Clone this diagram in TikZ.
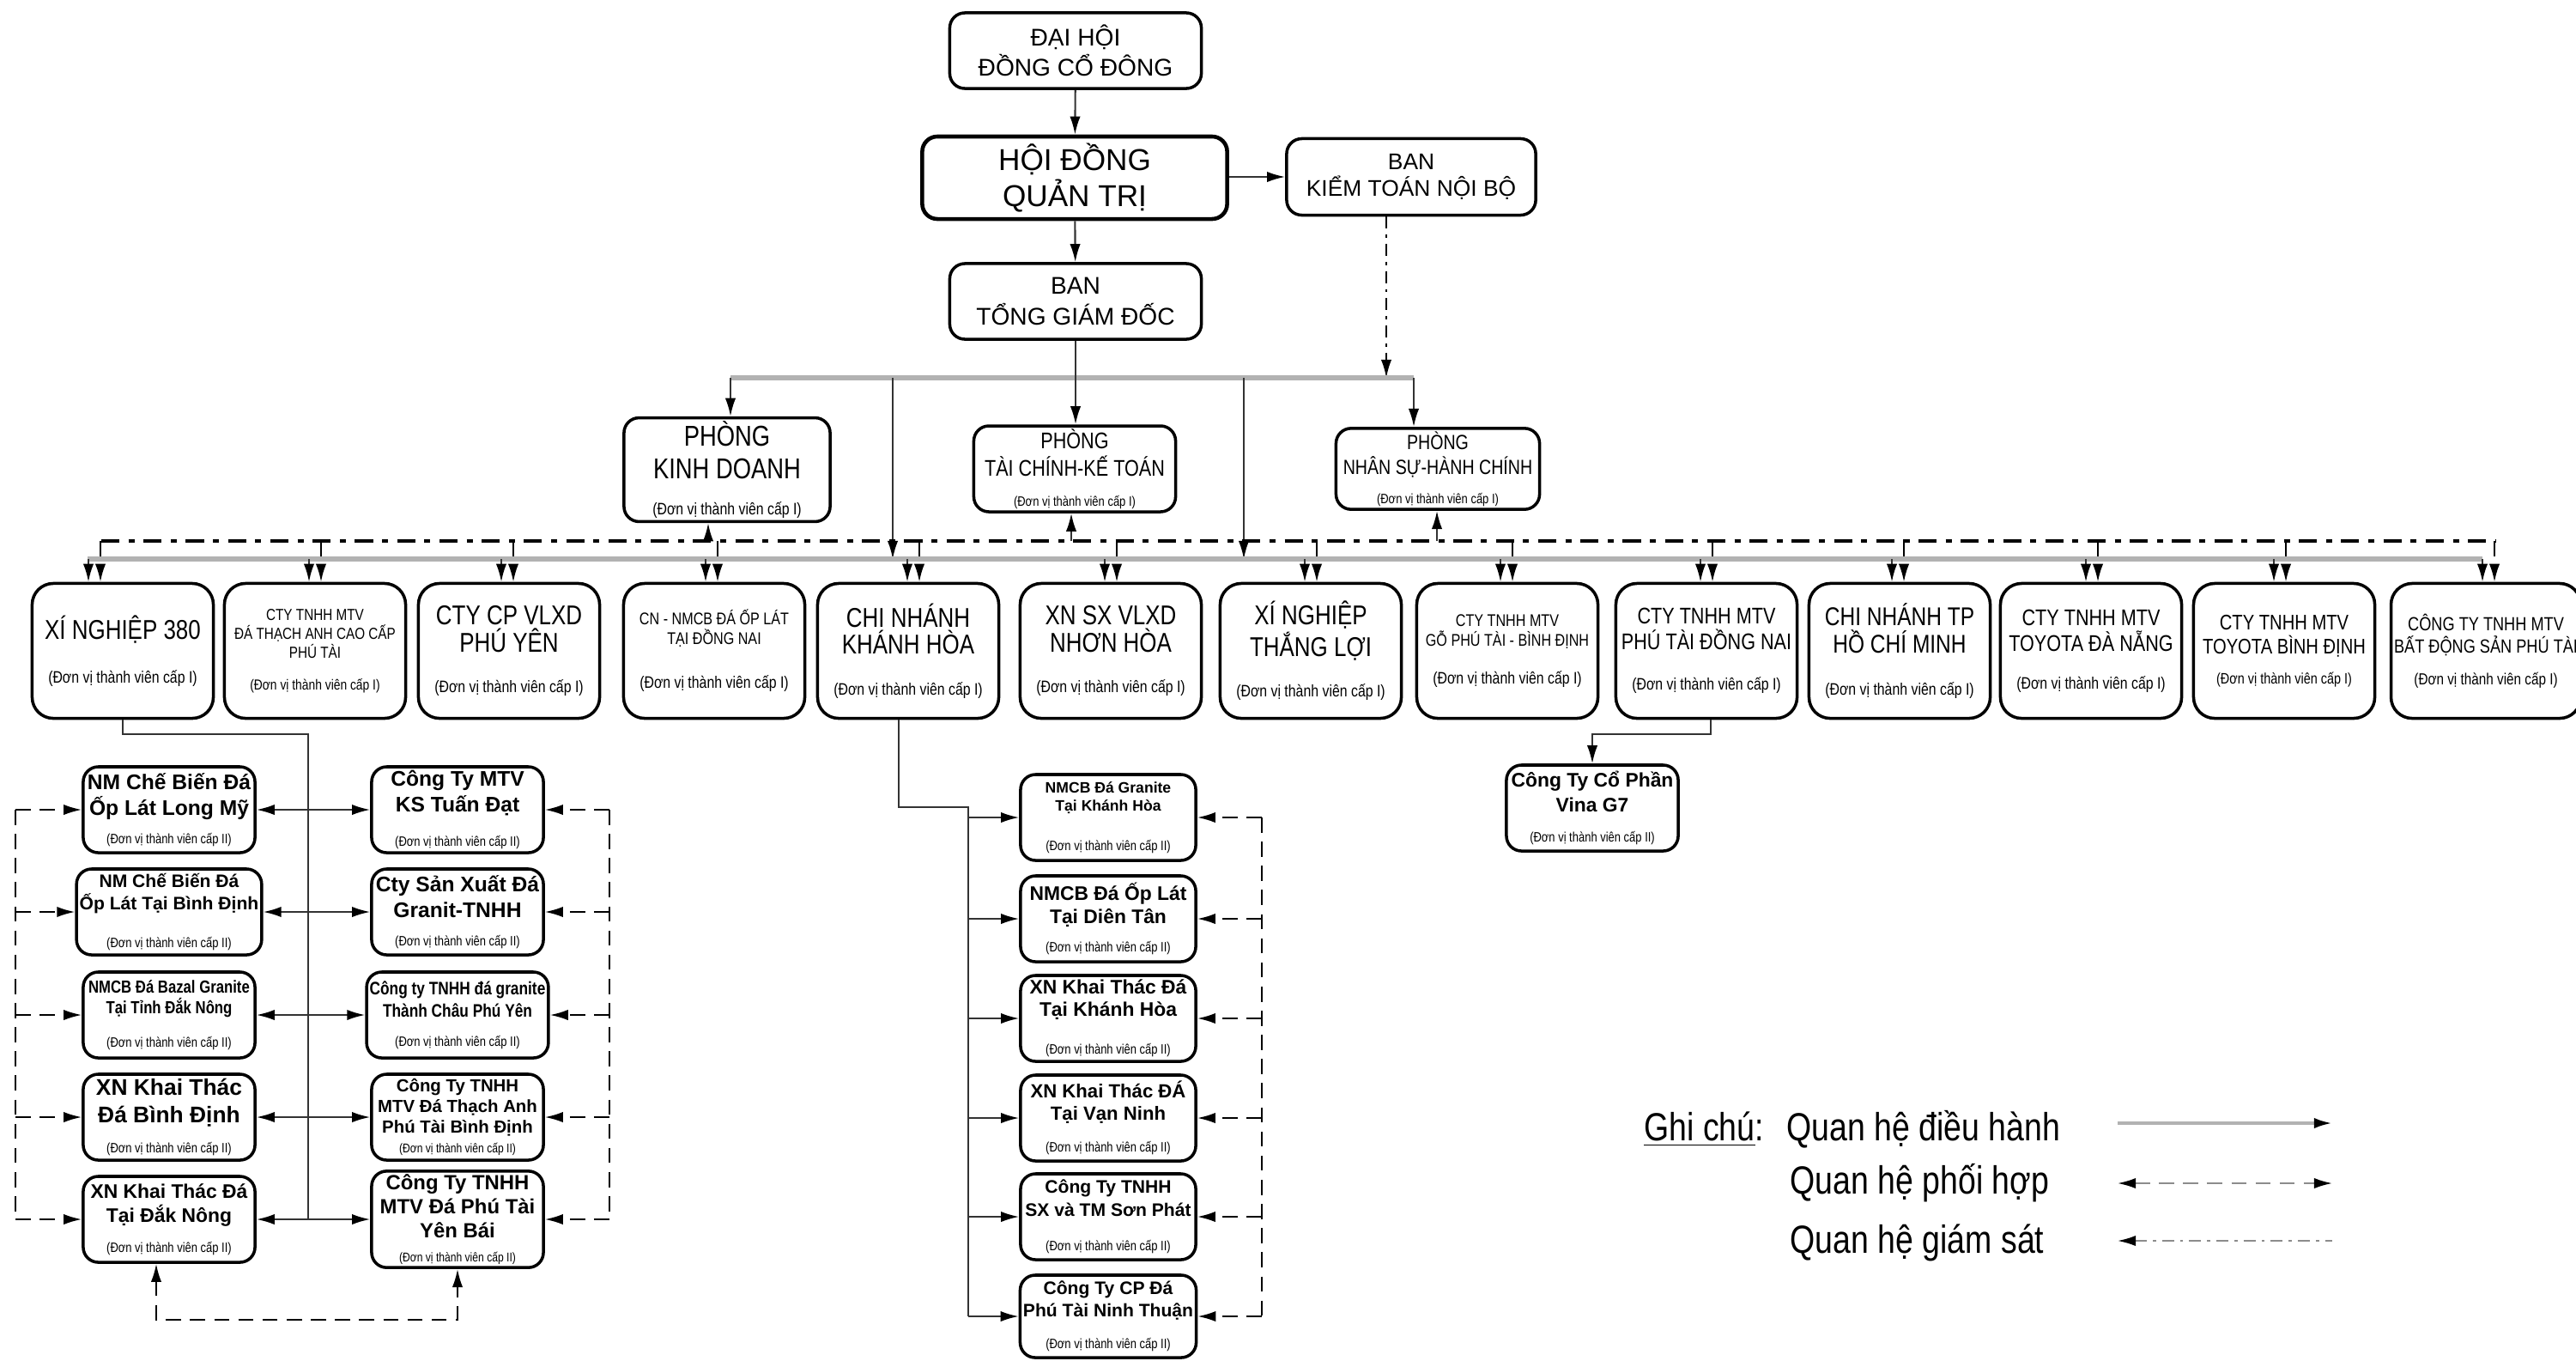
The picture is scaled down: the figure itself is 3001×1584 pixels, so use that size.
\documentclass[tikz,border=0pt]{standalone}
\usepackage{fontspec}
\setmainfont{Liberation Sans}
\newfontfamily\nar{Liberation Sans}[FakeStretch=0.82]
\usetikzlibrary{positioning, calc, arrows.meta}

\newcommand{\uf}[2]{\nar\fontsize{#1}{#2}\selectfont}
\newcommand{\rf}[2]{\fontsize{#1}{#2}\selectfont}
\newcommand{\capi}[1]{{\nar\mdseries\fontsize{#1}{#1}\selectfont (Đơn vị thành viên cấp I)}}
\newcommand{\capii}[1]{{\nar\mdseries\fontsize{#1}{#1}\selectfont (Đơn vị thành viên cấp II)}}

\tikzset{>={Latex[length=6pt,width=3.5pt,color=black]}}
\tikzset{box/.style={draw, line width=1pt, rounded corners=5pt, align=center, inner sep=1pt, fill=white}}
\tikzset{topbox/.style={box, minimum width=2.93cm, minimum height=0.88cm}}
\tikzset{unit/.style={box, minimum width=2.11cm, minimum height=1.57cm, rounded corners=7pt}}
\tikzset{sub/.style={box, minimum width=2cm, minimum height=1cm}}
\tikzset{ctl/.style={line width=0.6pt, black!80}}
\tikzset{bus/.style={line width=1.5pt, black!30}}
\tikzset{coop/.style={line width=0.6pt, dash pattern=on 5pt off 3pt}}
\tikzset{coopbus/.style={line width=1pt, dash pattern=on 6pt off 3pt on 2pt off 3pt}}
\tikzset{supv/.style={line width=0.6pt, dash pattern=on 4pt off 2pt on 1pt off 2pt}}

\begin{document}
\begin{tikzpicture}[x=0.01cm, y=-0.01cm]
  \useasboundingbox (0,0) rectangle (3001,1584);

  % TOP LEVEL

  \node[topbox, font=\rf{8}{10}] (dhcd) at (1253,59) {ĐẠI HỘI\\ĐỒNG CỔ ĐÔNG};
  \node[box, line width=1.3pt, minimum width=3.55cm, minimum height=0.96cm, font=\rf{10}{12}] (hdqt) at (1252,207) {HỘI ĐỒNG\\QUẢN TRỊ};
  \node[box, minimum width=2.9cm, minimum height=0.89cm, font=\rf{7.5}{9}] (bktnb) at (1644,206) {BAN\\KIỂM TOÁN NỘI BỘ};
  \node[topbox, font=\rf{8}{10}] (btgd) at (1253,351) {BAN\\TỔNG GIÁM ĐỐC};

  \node[box, minimum width=2.4cm, minimum height=0.92cm, font=\uf{9.5}{11}] (pkd) at (847,547) {PHÒNG\\KINH DOANH\\[1pt]\capi{5.5}};
  \node[box, minimum width=2.35cm, minimum height=0.9cm, font=\uf{7.5}{9}] (ptc) at (1252,546) {PHÒNG\\TÀI CHÍNH-KẾ TOÁN\\[1pt]\capi{4.5}};
  \node[box, minimum width=2.37cm, minimum height=0.9cm, font=\uf{6.8}{8.5}] (pns) at (1675,546) {PHÒNG\\NHÂN SỰ-HÀNH CHÍNH\\[1pt]\capi{4.5}};

  % MEMBER UNITS (LEVEL I)

  \node[unit, font=\uf{9}{9.5}] (u1) at (143,758) {XÍ NGHIỆP 380\\[5pt]\capi{5.5}};
  \node[unit, font=\uf{5.3}{6.3}] (u2) at (367,758) {CTY TNHH MTV\\ĐÁ THẠCH ANH CAO CẤP\\PHÚ TÀI\\[4pt]\capi{4.8}};
  \node[unit, font=\uf{9}{9}] (u3) at (593,758) {CTY CP VLXD\\PHÚ YÊN\\[4.5pt]\capi{5.5}};
  \node[unit, font=\uf{5.6}{6.5}] (u4) at (832,758) {CN - NMCB ĐÁ ỐP LÁT\\TẠI ĐỒNG NAI\\[8pt]\capi{5.5}};
  \node[unit, font=\uf{9}{9}] (u5) at (1058,758) {CHI NHÁNH\\KHÁNH HÒA\\[4.5pt]\capi{5.5}};
  \node[unit, font=\uf{9}{9}] (u6) at (1294,758) {XN SX VLXD\\NHƠN HÒA\\[4.5pt]\capi{5.5}};
  \node[unit, font=\uf{9}{9}] (u7) at (1527,758) {XÍ NGHIỆP\\THẮNG LỢI\\[4.5pt]\capi{5.5}};
  \node[unit, font=\uf{5.6}{6.5}] (u8) at (1756,758) {CTY TNHH MTV\\GỖ PHÚ TÀI - BÌNH ĐỊNH\\[6pt]\capi{5.5}};
  \node[unit, font=\uf{7.5}{8.5}] (u9) at (1988,758) {CTY TNHH MTV\\PHÚ TÀI ĐỒNG NAI\\[5pt]\capi{5.5}};
  \node[unit, font=\uf{8.5}{9}] (u10) at (2213,758) {CHI NHÁNH TP\\HỒ CHÍ MINH\\[5pt]\capi{5.5}};
  \node[unit, font=\uf{7.5}{8.5}] (u11) at (2436,758) {CTY TNHH MTV\\TOYOTA ĐÀ NẴNG\\[4pt]\capi{5.5}};
  \node[unit, font=\uf{7}{8}] (u12) at (2661,758) {CTY TNHH MTV\\TOYOTA BÌNH ĐỊNH\\[2pt]\capi{5}};
  \node[unit, minimum width=2.05cm, font=\uf{6.3}{7.5}] (u13) at (2896,758) {CÔNG TY TNHH MTV\\BẤT ĐỘNG SẢN PHÚ TÀI\\[3pt]\capi{5.3}};

  % LEVEL II UNDER XI NGHIEP 380

  \node[sub, font=\bfseries\rf{7}{8.5}] (l1) at (197,943) {NM Chế Biến Đá\\Ốp Lát Long Mỹ\\[1pt]\capii{4.5}};
  \node[sub, font=\bfseries\rf{6}{7.5}] (l2) at (197,1062) {NM Chế Biến Đá\\Ốp Lát Tại Bình Định\\[5pt]\capii{4.5}};
  \node[sub, font=\nar\bfseries\rf{5.8}{7}] (l3) at (197,1182) {NMCB Đá Bazal Granite\\Tại Tỉnh Đắk Nông\\[4pt]\capii{4.5}};
  \node[sub, font=\bfseries\rf{7.5}{9}] (l4) at (197,1301) {XN Khai Thác\\Đá Bình Định\\[1pt]\capii{4.5}};
  \node[sub, font=\bfseries\rf{6.5}{8}] (l5) at (197,1420) {XN Khai Thác Đá\\Tại Đắk Nông\\[2pt]\capii{4.5}};

  \node[sub, font=\bfseries\rf{7}{8.5}] (r1) at (533,943) {Công Ty MTV\\KS Tuấn Đạt\\[3pt]\capii{4.5}};
  \node[sub, font=\bfseries\rf{7}{8.5}] (r2) at (533,1062) {Cty Sản Xuất Đá\\Granit-TNHH\\[1pt]\capii{4.5}};
  \node[sub, font=\nar\bfseries\rf{6}{7.5}] (r3) at (533,1182) {Công ty TNHH đá granite\\Thành Châu Phú Yên\\[2pt]\capii{4.5}};
  \node[sub, font=\bfseries\rf{5.8}{6.8}] (r4) at (533,1301) {Công Ty TNHH\\MTV Đá Thạch Anh\\Phú Tài Bình Định\\\capii{4.2}};
  \node[sub, font=\bfseries\rf{6.8}{8}] (r5) at (533,1420) {Công Ty TNHH\\MTV Đá Phú Tài\\Yên Bái\\\capii{4.2}};

  % LEVEL II UNDER CHI NHANH KHANH HOA

  \node[sub, minimum width=2.04cm, font=\bfseries\rf{5}{6}] (k1) at (1291,952) {NMCB Đá Granite\\Tại Khánh Hòa\\[7pt]\capii{4.5}};
  \node[sub, minimum width=2.04cm, font=\bfseries\rf{6.5}{7.5}] (k2) at (1291,1070) {NMCB Đá Ốp Lát\\Tại Diên Tân\\[2pt]\capii{4.5}};
  \node[sub, minimum width=2.04cm, font=\bfseries\rf{6.5}{7.5}] (k3) at (1291,1186) {XN Khai Thác Đá\\Tại Khánh Hòa\\[5pt]\capii{4.5}};
  \node[sub, minimum width=2.04cm, font=\bfseries\rf{6.3}{7.5}] (k4) at (1291,1302) {XN Khai Thác ĐÁ\\Tại Vạn Ninh\\[3pt]\capii{4.5}};
  \node[sub, minimum width=2.04cm, font=\bfseries\rf{6}{7.5}] (k5) at (1291,1417) {Công Ty TNHH\\SX và TM Sơn Phát\\[4pt]\capii{4.5}};
  \node[sub, minimum width=2.04cm, minimum height=0.96cm, font=\bfseries\rf{6}{7.5}] (k6) at (1291,1533) {Công Ty CP Đá\\Phú Tài Ninh Thuận\\[3pt]\capii{4.5}};

  \node[sub, font=\bfseries\rf{6.5}{8}] (g7) at (1855,941) {Công Ty Cổ Phần\\Vina G7\\[2pt]\capii{4.5}};

  % LEGEND

  \node[anchor=west, font=\uf{13}{15}] (gc) at (1903,1315) {\underline{Ghi chú}:};
  \node[anchor=west, font=\uf{13}{15}] (q1) at (2069,1315) {Quan hệ điều hành};
  \node[anchor=west, font=\uf{13}{15}] (q2) at (2073,1378) {Quan hệ phối hợp};
  \node[anchor=west, font=\uf{13}{15}] (q3) at (2073,1447) {Quan hệ giám sát};

  % COORDINATES

  \coordinate (tbusL) at (851,440);
  \coordinate (tbusR) at (1647,440);
  \coordinate (tbA) at (1040,440);
  \coordinate (tbB) at (1449,440);
  \coordinate (sup) at (1615,440);
  \coordinate (dbusL) at (118,630);
  \coordinate (dbusR) at (2907,630);
  \coordinate (sbusL) at (102,651);
  \coordinate (sbusR) at (2892,651);
  \coordinate (upKD) at (825,630);
  \coordinate (upTC) at (1248,630);
  \coordinate (upNS) at (1674,630);
  \coordinate (ltrunk) at (359,855);
  \coordinate (lx) at (18,0);
  \coordinate (rx) at (710,0);
  \coordinate (ktop) at (1128,940);
  \coordinate (kx) at (1470,0);
  \coordinate (la1) at (2467,1308); \coordinate (lb1) at (2717,1308);
  \coordinate (la2) at (2467,1378); \coordinate (lb2) at (2717,1378);
  \coordinate (la3) at (2467,1445); \coordinate (lb3) at (2717,1445);

  % ARCS: TOP

  \draw[ctl, ->] (dhcd) -- (hdqt);
  \draw[ctl, ->] (hdqt.east |- bktnb.west) -- (bktnb.west);
  \draw[ctl, ->] (hdqt) -- (btgd);
  \draw[supv, ->] (sup |- bktnb.south) -- (sup);

  \draw[bus] (tbusL) -- (tbusR);
  \draw[ctl, ->] (btgd.south) -- (btgd.south |- ptc.north);
  \draw[ctl, ->] (tbusL) -- (tbusL |- pkd.north);
  \draw[ctl, ->] (tbusR) -- (tbusR |- pns.north);
  \draw[ctl, ->] (tbA) -- (tbA |- sbusL);
  \draw[ctl, ->] (tbB) -- (tbB |- sbusL);

  % ARCS: BUSES TO UNITS

  \draw[bus] (sbusL) -- (sbusR);
  \draw[coopbus] (dbusL) -- (dbusR);
  \draw[ctl, ->] (upKD) -- (upKD |- pkd.south);
  \draw[ctl, ->] (upTC) -- (upTC |- ptc.south);
  \draw[ctl, ->] (upNS) -- (upNS |- pns.south);

  \foreach \u/\s in {u1/-33, u2/0, u3/-2, u4/-3, u5/6, u6/0, u7/0, u8/-1, u9/0, u10/-2, u11/1, u12/-5, u13/3} {
    \path ($(\u.north)+(\s-7,0)$) coordinate (ea) ($(\u.north)+(\s+7,0)$) coordinate (eb);
    \draw[ctl, ->] (ea |- sbusL) -- (ea);
    \draw[coop, ->] (eb |- dbusL) -- (eb);
  }

  % ARCS: XI NGHIEP 380 GROUP

  \draw[ctl] (u1.south) |- (ltrunk) -- (ltrunk |- l5.east);
  \foreach \i in {1,...,5} {
    \draw[ctl, <->] (l\i.east) -- (r\i.west);
    \draw[coop, ->] (l\i.west -| lx) -- (l\i.west);
    \draw[coop, ->] (r\i.east -| rx) -- (r\i.east);
  }
  \draw[coop] (l1.west -| lx) -- (l5.west -| lx);
  \draw[coop] (r1.east -| rx) -- (r5.east -| rx);
  \draw[coop, <->] ($(l5.south)+(-15,0)$) -- ++(0,65) -| (r5.south);

  % ARCS: KHANH HOA GROUP

  \draw[ctl] ($(u5.south)+(-11,0)$) |- (ktop) -- (ktop |- k6.west);
  \foreach \i in {1,...,6} {
    \draw[ctl, ->] (k\i.west -| ktop) -- (k\i.west);
    \draw[coop, ->] (k\i.east -| kx) -- (k\i.east);
  }
  \draw[coop] (k1.east -| kx) -- (k6.east -| kx);

  % ARCS: VINA G7

  \draw[ctl, ->] ($(u9.south)+(5,0)$) -- ++(0,17) -| (g7.north);

  % LEGEND ARCS

  \draw[bus, line width=1pt, ->] (la1) -- (lb1);
  \draw[coop, black!45, <->] (la2) -- (lb2);
  \draw[supv, black!45, <-] (la3) -- (lb3);

\end{tikzpicture}
\end{document}
